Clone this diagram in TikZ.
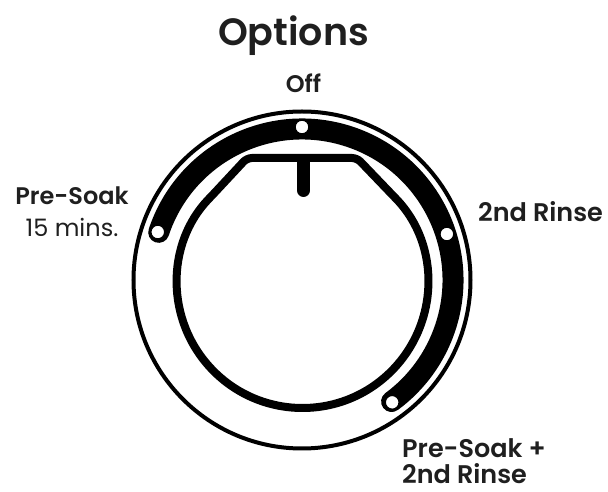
\documentclass[tikz,border=0pt]{standalone}
\usepackage{fontspec}
\setmainfont{Poppins}[BoldFont={Poppins SemiBold}]
\usetikzlibrary{calc}

\begin{document}
\begin{tikzpicture}[x=1pt, y=1pt,
    ttl/.style={font=\fontsize{38}{42}\selectfont\bfseries, text=black!88, inner sep=0pt, anchor=base},
    lbl/.style={font=\fontsize{24}{28}\selectfont\bfseries, text=black!88, inner sep=0pt, anchor=base, text depth=0pt},
    lblr/.style={font=\fontsize{24}{28}\selectfont, text=black!88, inner sep=0pt, anchor=base},
    lblw/.style={lbl, font=\fontsize{25.5}{28}\selectfont\bfseries, anchor=base west},
    dot/.style={circle, draw, line width=1.5pt, fill=white, minimum size=14pt, inner sep=0pt},
    band/.style={line width=21pt, line cap=round}]
  \useasboundingbox (-302,-212) rectangle (306,280);
  % ---------------- dial ring ----------------
  \draw[line width=4pt] (0,0) circle[radius=168.5];
  \draw[band] (161.6:151) arc[start angle=161.6, end angle=-53.6, radius=151];
  % ---------------- knob ----------------
  \coordinate (kc) at (0.5,-2.5);
  \draw[line width=8pt, rounded corners=5pt] (-55,122) -- (55,122)
     -- ($(kc)+(44:125.5)$) arc[start angle=44, end angle=-224, radius=125.5] -- cycle;
  \draw[line width=13pt, line cap=round] (1.5,118) -- (1.5,89.5);
  % ---------------- positions ----------------
  \node[dot] (off) at (90:153) {};
  \node[dot] (soak) at (161.6:152) {};
  \node[dot] (rinse) at (17.6:152) {};
  \node[dot] (both) at (-53.6:152) {};
  % ---------------- labels ----------------
  \node[ttl] (title) at (-8.5,234) {Options};
  \node[lbl] (offlbl) at (1.5,187) {Off};
  \node[lbl] (soaklbl) at (-230,75) {Pre-Soak};
  \node[lblr] (minslbl) at (-230,43) {15 mins.};
  \node[lblw] (rinselbl) at (176,58) {2nd Rinse};
  \node[lblw] (bothlbl) at (100,-178) {Pre-Soak +};
  \node[lblw] (bothlblb) at (100,-203.5) {2nd Rinse};
\end{tikzpicture}
\end{document}
